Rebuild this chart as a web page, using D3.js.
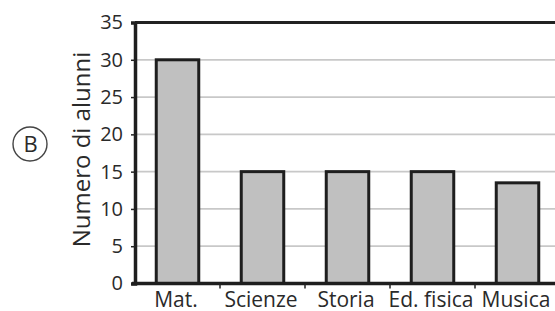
<!DOCTYPE html>
<html lang="it">
<head>
<meta charset="UTF-8">
<title>Numero di alunni per materia</title>
<script src="https://d3js.org/d3.v7.min.js"></script>
<style>
  html, body { margin: 0; padding: 0; background: #fff; }
  svg { display: block; font-family: "Open Sans", "Noto Sans", sans-serif; }
</style>
</head>
<body>
<div id="chart"></div>
<script>
// dati
const materie = ['Mat.', 'Scienze', 'Storia', 'Ed. fisica', 'Musica'];
const alunni  = [30, 15, 15, 15, 13.5];
const yTicks  = [0, 5, 10, 15, 20, 25, 30, 35];

const W = 555, H = 311;
const svg = d3.select('#chart').append('svg')
    .attr('width', W).attr('height', H);

// area del grafico (a destra esce dalla finestra, come nell'originale)
const pLeft = 135, pRight = 560, pTop = 22.5, pBottom = 283.5;

const x = d3.scaleBand().domain(materie).range([pLeft, pRight]).paddingInner(0.5).paddingOuter(0.25);
const y = d3.scaleLinear().domain([0, 35]).range([pBottom, pTop]);

// griglia
svg.append('g').selectAll('line')
  .data(yTicks.filter(d => d > 0 && d < 35))
  .join('line')
    .attr('x1', pLeft).attr('x2', pRight)
    .attr('y1', d => y(d)).attr('y2', d => y(d))
    .attr('stroke', '#c8c8c8').attr('stroke-width', 1.8);

// bordo superiore
svg.append('line')
    .attr('x1', pLeft).attr('x2', pRight)
    .attr('y1', y(35)).attr('y2', y(35))
    .attr('stroke', '#222').attr('stroke-width', 3);

// barre
svg.append('g').selectAll('rect')
  .data(materie)
  .join('rect')
    .attr('x', d => x(d))
    .attr('y', (d, i) => y(alunni[i]))
    .attr('width', x.bandwidth())
    .attr('height', (d, i) => pBottom - y(alunni[i]))
    .attr('fill', '#c0c0c0')
    .attr('stroke', '#1e1e1e').attr('stroke-width', 3);

// asse y
const yAxis = svg.append('g')
    .attr('transform', `translate(${pLeft},0)`)
    .call(d3.axisLeft(y).tickValues(yTicks).tickSize(4).tickPadding(8));
yAxis.select('.domain').attr('stroke', '#1e1e1e').attr('stroke-width', 3.5);
yAxis.selectAll('.tick line').attr('stroke', '#222').attr('stroke-width', 1.5);
yAxis.selectAll('.tick text')
    .attr('font-size', 20).attr('fill', '#2a2a2a')
    .attr('font-family', '"Open Sans", sans-serif');

// asse x: tacche tra le categorie
const xAxis = svg.append('g')
    .attr('transform', `translate(0,${pBottom})`);
xAxis.append('line')
    .attr('x1', pLeft - 3).attr('x2', pRight)
    .attr('stroke', '#1e1e1e').attr('stroke-width', 3.5);
xAxis.selectAll('line.sep')
  .data(materie.slice(1))
  .join('line').attr('class', 'sep')
    .attr('x1', d => x(d) - x.step() * x.paddingInner() / 2)
    .attr('x2', d => x(d) - x.step() * x.paddingInner() / 2)
    .attr('y1', 0).attr('y2', 5)
    .attr('stroke', '#222').attr('stroke-width', 1.5);
xAxis.selectAll('text')
  .data(materie)
  .join('text')
    .attr('x', d => x(d) + x.bandwidth() / 2 - 1.5)
    .attr('y', 23)
    .attr('text-anchor', 'middle')
    .attr('font-size', 21).attr('fill', '#2a2a2a')
    .text(d => d);

// titolo asse y
svg.append('text')
    .attr('transform', 'translate(90,149.5) rotate(-90)')
    .attr('text-anchor', 'middle')
    .attr('font-size', 24).attr('fill', '#2a2a2a')
    .text('Numero di alunni');

// lettera cerchiata
svg.append('circle')
    .attr('cx', 30).attr('cy', 144).attr('r', 17)
    .attr('fill', 'none').attr('stroke', '#444').attr('stroke-width', 1.4);
svg.append('text')
    .attr('x', 30.5).attr('y', 152)
    .attr('text-anchor', 'middle')
    .attr('font-size', 22).attr('fill', '#2a2a2a')
    .text('B');
</script>
</body>
</html>
